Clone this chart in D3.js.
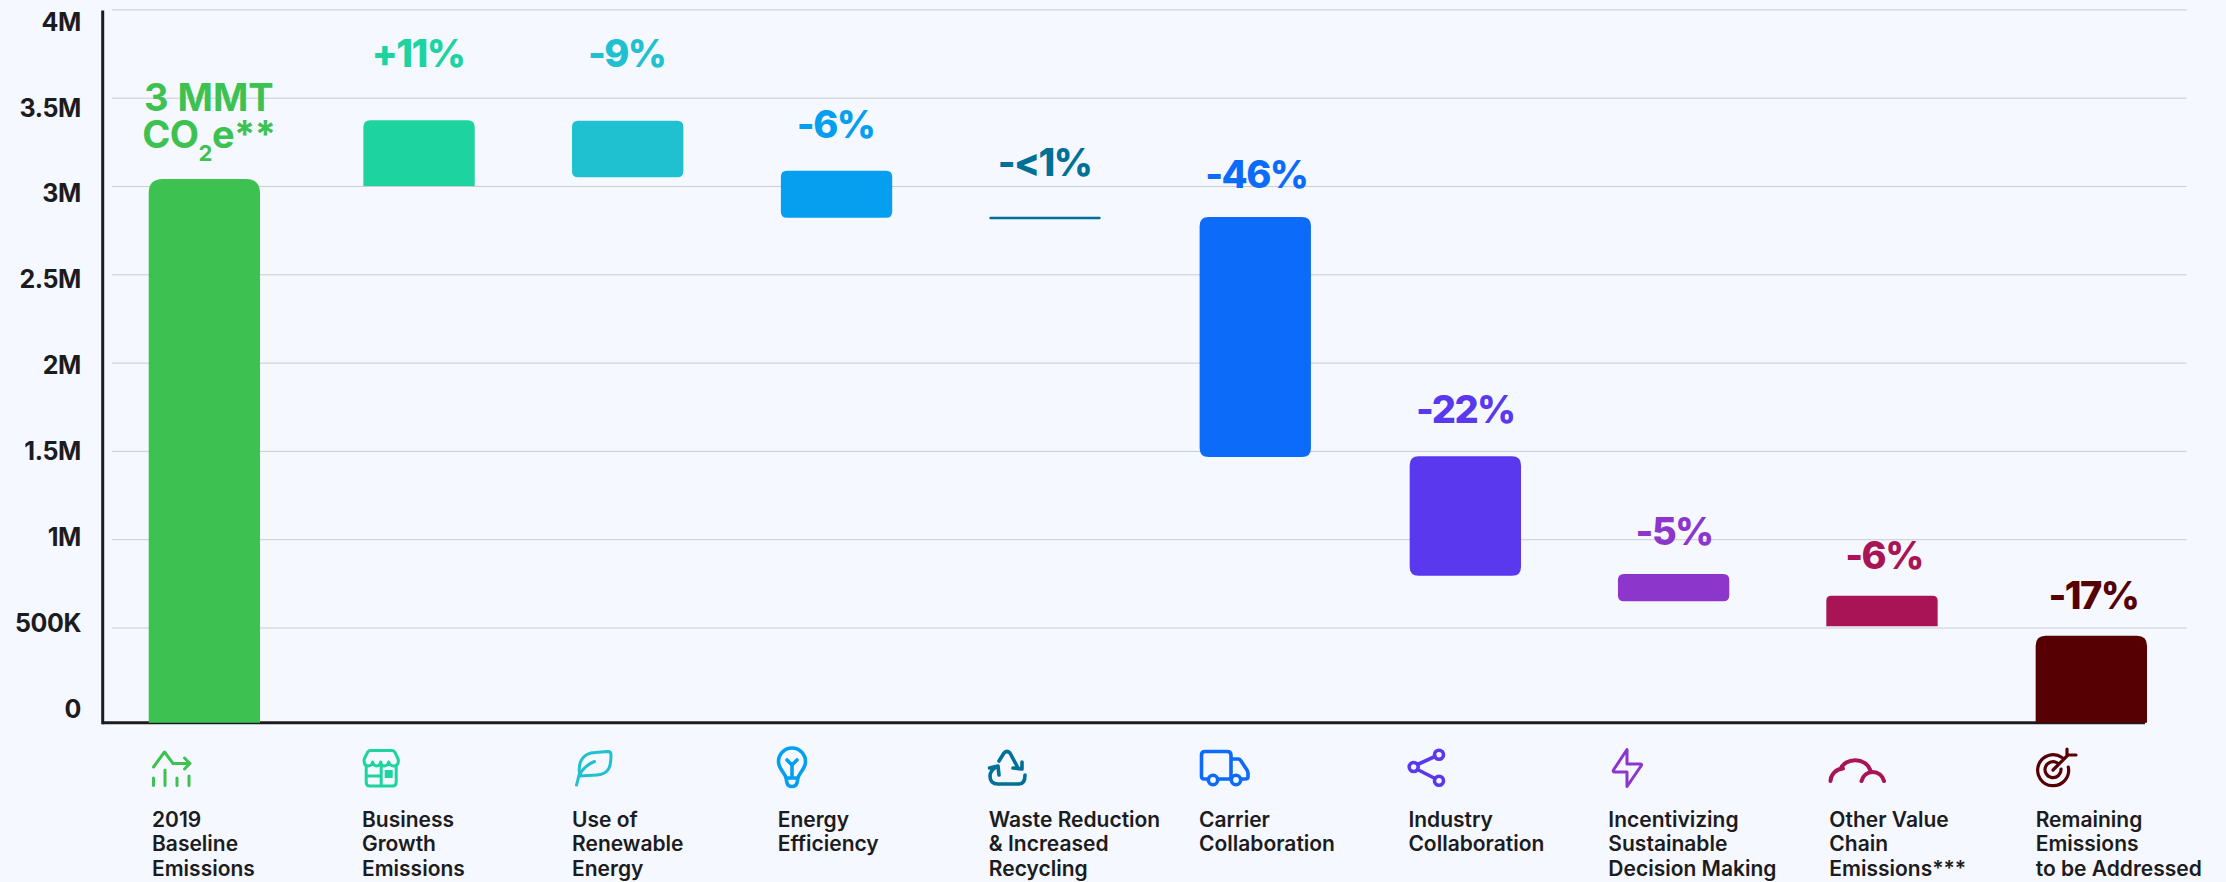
<!DOCTYPE html><html><head><meta charset="utf-8"><script src="https://d3js.org/d3.v7.min.js"></script><style>html,body{margin:0;background:#f5f8ff}svg{display:block}text{font-family:Inter,sans-serif}</style></head><body><svg id="c" width="2226" height="882"></svg><script>
const categories=["2019 Baseline Emissions","Business Growth Emissions","Use of Renewable Energy","Energy Efficiency","Waste Reduction & Increased Recycling","Carrier Collaboration","Industry Collaboration","Incentivizing Sustainable Decision Making","Other Value Chain Emissions***","Remaining Emissions to be Addressed"];
const labelLines=[["2019","Baseline","Emissions"],["Business","Growth","Emissions"],["Use of","Renewable","Energy"],["Energy","Efficiency"],["Waste Reduction","& Increased","Recycling"],["Carrier","Collaboration"],["Industry","Collaboration"],["Incentivizing","Sustainable","Decision Making"],["Other Value","Chain","Emissions***"],["Remaining","Emissions","to be Addressed"]];
const barStart=[0,3000000,3050000,2820000,2812000,1466000,793000,648000,507000,0];
const barEnd=[3039000,3373000,3370000,3086000,2826000,2825000,1470000,803000,680000,453000];
const pctLabels=["","+11%","-9%","-6%","-<1%","-46%","-22%","-5%","-6%","-17%"];
const colors=["#3dc252","#1dd3a0","#1fc0cf","#069fef","#007097","#0d6bfa","#5a38ee","#8c36cc","#a81455","#560003"];
const tickValues=[4000000,3500000,3000000,2500000,2000000,1500000,1000000,500000];
const tickLabels=["4M","3.5M","3M","2.5M","2M","1.5M","1M","500K","0"];

const svg=d3.select('#c');
const y=d3.scaleLinear([0,4000000],[715.8,9.4]);
const band=d3.scaleBand(categories,[148.7,2147]).paddingInner(0.469).paddingOuter(0);
const slotNudge=[0,5,4,3.2,2,2.6,3,1.6,0.3,0];
const x=d=>band(d)+slotNudge[categories.indexOf(d)];
const bw=band.bandwidth();
const tickY=d3.scalePoint(tickLabels,[30.7,717.7]);
const axisY=722.7,axisX=102.7;
const radii=[14,7,6,6,1,9,9,6,5,10];
const squareBottom=[true,true,false,false,false,false,false,false,true,true];
const pctBase=[0,66.7,66.7,138,176,188.3,423,545,569,609];
const pctNudge=[0,-1,-1,-1,-0.5,1,0,0.5,2,2];
const labelNudge=[3.3,-1.4,0,-3.2,-0.5,-0.6,-1.3,-9.6,3,0];

const grid=d3.axisLeft(y).tickValues(tickValues).tickSize(-(2186.7-112)).tickFormat("");
const g=svg.append('g').attr('transform','translate(112,0)').call(grid);
g.select('.domain').remove();
g.selectAll('line').attr('stroke','#c9ccd1').attr('stroke-width',1);

svg.append('g').selectAll('text').data(tickLabels).join('text')
 .attr('x',81).attr('y',d=>tickY(d)).attr('text-anchor','end')
 .attr('font-size',25).attr('font-weight',700).attr('letter-spacing',-0.4).attr('fill','#1c1c20').text(d=>d);

function barPath(top,bottom,l,w,r,sq){
 const p=d3.path();
 p.moveTo(l,top+r);p.quadraticCurveTo(l,top,l+r,top);p.lineTo(l+w-r,top);p.quadraticCurveTo(l+w,top,l+w,top+r);
 if(sq){p.lineTo(l+w,bottom);p.lineTo(l,bottom);}
 else{p.lineTo(l+w,bottom-r);p.quadraticCurveTo(l+w,bottom,l+w-r,bottom);p.lineTo(l+r,bottom);p.quadraticCurveTo(l,bottom,l,bottom-r);}
 p.closePath();return p.toString();
}
svg.append('line').attr('x1',axisX).attr('x2',axisX).attr('y1',10.5).attr('y2',axisY+1.5).attr('stroke','#1c1c20').attr('stroke-width',3);
svg.append('line').attr('x1',axisX).attr('x2',2145).attr('y1',axisY).attr('y2',axisY).attr('stroke','#1c1c20').attr('stroke-width',3);
svg.append('g').selectAll('path').data(categories).join('path')
 .attr('fill',(d,i)=>colors[i])
 .attr('d',(d,i)=>{
   const top=y(barEnd[i]);const bottom=barStart[i]===0?axisY:y(barStart[i]);
   return barPath(top,bottom,x(d),bw,radii[i],squareBottom[i]);
 });

svg.append('g').selectAll('text').data(categories).join('text')
 .attr('x',(d,i)=>x(d)+bw/2+pctNudge[i]).attr('y',(d,i)=>pctBase[i]).attr('text-anchor','middle')
 .attr('font-size',38).attr('font-weight',800).attr('letter-spacing',-1.6)
 .attr('fill',(d,i)=>colors[i]).text((d,i)=>pctLabels[i]);
const bl=svg.append('g').attr('fill',colors[0]).attr('font-size',38).attr('font-weight',700).attr('text-anchor','middle');
bl.append('text').attr('x',x(categories[0])+bw/2+4.5).attr('y',111).text('3 MMT');
const co=bl.append('text').attr('x',x(categories[0])+bw/2+4.5).attr('y',148).attr('letter-spacing',-0.5);
co.append('tspan').text('CO');co.append('tspan').attr('font-size',22).attr('dy',13).text('2');co.append('tspan').attr('dy',-13).text('e**');

const cat=svg.append('g').selectAll('g').data(categories).join('g')
 .attr('transform',(d,i)=>`translate(${x(d)+labelNudge[i]},826.7)`);
cat.selectAll('text').data((d,i)=>labelLines[i]).join('text')
 .attr('y',(d,j)=>j*24.5).attr('font-size',21).attr('font-weight',600).attr('fill','#1c1c20').text(d=>d);

const icons=[
 {o:[152,750],d:"M1.5,17 L12.5,2 L21,13.5 H37 M32.5,8 L38,13.5 L32.5,19 M1.5,28 V35.5 M13,20 V35.5 M25,28 V35.5 M37,26 V35.5"},
 {o:[362.7,749],d:"M8,1.5 H29 Q31,1.5 32,3 L35,9 Q36,11 35.5,13.5 Q35,17 31,17 Q27,17 26,13 Q25,17 21.5,17 Q18.5,17 18,13 Q17,17 14,17 Q11,17 10,13 Q9,17 5.5,17 Q2,17 1.5,13 Q1,11 2,9 L5,3 Q6,1.5 8,1.5 Z M3.5,16 V33 Q3.5,37 7,37 H30 Q33.5,37 33.5,33 V16 M18.5,17 V37 M3.5,27 H18.5",fill:[22,21,8,8]},
 {o:[575,750],d:"M1.5,35 C3,30 3.5,27 4.5,23 C3,12 8,3 20,2.5 L33,1.5 Q36,1.5 36,5 C36,15 35,24 22,25 L4.5,26 M4.5,25 C8,18 13,14 19.5,11.5"},
 {o:[777,747],d:"M9,31 C8,26 1.5,22 1.5,14.5 A13.5,13.5 0 0 1 28.5,14.5 C28.5,22 22,26 21,31 Z M9,31 L10,36 Q11,39.5 15,39.5 Q19,39.5 20,36 L21,31 M15,31 V17 M10,13 L15,18 L20,13",w:3.6},
 {o:[989,750],d:"M10,11 L15,3 Q18,0 21,3 L29,18 M24,18 L33,19 L33,12 M36,25 Q36,34 30,34 H9 Q1,34 1,26 Q1,21 7,17 M0.5,18 L9,16 L10,25",w:3.6},
 {o:[1200,750],d:"M4,29 Q1.5,29 1.5,26 V5 Q1.5,1.5 5,1.5 H27 Q31,1.5 31,5 V29 M31,9 H38 Q40,9 41,11 L47,20 Q48,22 48,24 V27 Q48,29 45,29 H41.5 M30.5,29 H18 M8,29 H4",c:[[13,30,4.7],[36,30,4.7]],w:3.6},
 {o:[1408,748],d:"M9.5,16.5 L27,8.5 M9.5,21.5 L27,30.5",c:[[5.7,19,4.5],[31,6.7,4.5],[31,32.7,4.5]],w:3.6},
 {o:[1612,748],d:"M15,1.5 L1.5,22 Q0.5,24 3,24 H15 V38.5 L29,18 Q30.5,16 28,16 H15 Z"},
 {o:[1829,755],d:"M1.5,26 A13,13 0 0 1 14,13.5 M11.5,14 A15.5,13 0 0 1 41,14.5 M32.5,26 A11.5,11.5 0 0 1 55,26",w:4},
 {o:[2036,748],d:"M26,9.5 A15.5,15.5 0 1 0 32.3,19 M21.5,15 A8,8 0 1 0 25,21 M17,22 L32,7 M31,1 V7 H40",w:3.2}
];
icons.forEach((ic,i)=>{
 const g=svg.append('g').attr('transform',`translate(${ic.o})`).attr('fill','none').attr('stroke',colors[i]).attr('stroke-width',ic.w||3).attr('stroke-linecap','round').attr('stroke-linejoin','round');
 g.append('path').attr('d',ic.d);
 (ic.c||[]).forEach(c=>g.append('circle').attr('cx',c[0]).attr('cy',c[1]).attr('r',c[2]));
 if(ic.fill)g.append('rect').attr('x',ic.fill[0]).attr('y',ic.fill[1]).attr('width',ic.fill[2]).attr('height',ic.fill[3]).attr('fill',colors[i]).attr('stroke','none');
});
</script></body></html>
